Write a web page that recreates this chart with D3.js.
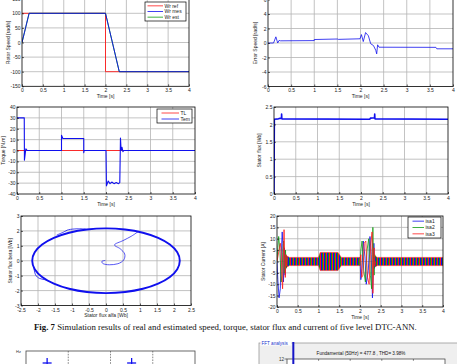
<!DOCTYPE html>
<html>
<head>
<meta charset="utf-8">
<script src="https://cdn.jsdelivr.net/npm/d3@7/dist/d3.min.js"></script>
<style>
  body { margin: 0; background: #fff; }
  svg { display: block; font-family: "Liberation Sans", Arial, sans-serif; }
</style>
</head>
<body>
<svg id="fig" width="457" height="364"></svg>
<script>
// ---- tick labels ----
var timeTicks = [0, 0.5, 1, 1.5, 2, 2.5, 3, 3.5, 4]
var speedTicks = [-150, -100, -50, 0, 50, 100, 150]
var errTicks = [-6, -4, -2, 0, 2, 4, 6]
var torqueTicks = [-40, -30, -20, -10, 0, 10, 20, 30, 40]
var fluxTicks = [0, 0.5, 1, 1.5, 2, 2.5]
var alfaTicks = [-2.5, -2, -1.5, -1, -0.5, 0, 0.5, 1, 1.5, 2, 2.5]
var betaTicks = [-3, -2, -1, 0, 1, 2, 3]
var currentTicks = [-20, -15, -10, -5, 0, 5, 10, 15, 20]

// ---- speed [t, rad/s] ----
var wrRef = [[0, 100], [2, 100], [2, -100], [4, -100]]
var wrMes = [[0, 0], [0.17, 100], [2, 100], [2.33, -100], [4, -100]]
var wrEst = [[0, 0], [0.17, 100], [2, 100], [2.33, -100], [4, -100]]

// ---- speed error ----
var errSpeed = [[0, 0], [0.12, 0], [0.17, 0.85], [0.21, 0], [0.24, 0.36], [0.27, 0.3], [1, 0.33],
  [1, 0.48], [1.5, 0.55], [1.52, 0.5], [1.99, 0.58], [2.02, 1.16], [2.06, 0.2], [2.11, 1.44],
  [2.17, 1.0], [2.22, -0.1], [2.28, -0.35], [2.33, -1.0], [2.35, -1.5], [2.37, -0.25],
  [2.4, -0.58], [3.63, -0.6], [3.65, -0.8], [4, -0.8]]

// ---- torque ----
var torqueLoad = [[0, 0], [4, 0]]
var torqueEm = [[0, 30], [0.163, 30], [0.167, -9], [0.19, -1], [0.2, 1.5], [0.23, 0], [1, 0],
  [1, 14], [1.03, 11], [1.5, 11], [1.5, -2], [1.51, 0], [2, 0], [2.01, -32.5], [2.05, -28],
  [2.09, -30.5], [2.13, -29], [2.18, -30.5], [2.23, -29.5], [2.28, -30.5], [2.31, -29.5],
  [2.325, 11.5], [2.34, 0], [2.36, 3], [2.38, -1], [2.4, 0], [4, 0]]

// ---- stator flux magnitude ----
var fluxMag = [[0, 0], [0.008, 2.15], [0.1, 2.16], [0.16, 2.18], [0.172, 2.18], [0.175, 2.3],
  [0.18, 2.16], [2.2, 2.15], [2.22, 2.18], [2.31, 2.19], [2.315, 2.3], [2.32, 2.16], [4, 2.15]]

// ---- stator flux locus [alfa, beta] ----
var fluxCircle = [[2.17, 0], [2.096, 0.562], [1.879, 1.085], [1.534, 1.534], [1.085, 1.879],
  [0.562, 2.096], [0, 2.17], [-0.562, 2.096], [-1.085, 1.879], [-1.534, 1.534], [-1.879, 1.085],
  [-2.096, 0.562], [-2.17, 0], [-2.096, -0.562], [-1.879, -1.085], [-1.534, -1.534],
  [-1.085, -1.879], [-0.562, -2.096], [0, -2.17], [0.562, -2.096], [1.085, -1.879],
  [1.534, -1.534], [1.879, -1.085], [2.096, -0.562]]
var fluxStart = [[-0.02, 0.02], [-0.12, -0.04], [-0.08, -0.2], [0.1, -0.27], [0.35, -0.2],
  [0.52, 0.05], [0.55, 0.45], [0.42, 0.8], [0.25, 1.07], [0.5, 1.35], [0.75, 1.65], [0.95, 1.96]]
var fluxKink = [[-2.12, -0.5], [-2.07, -0.95], [-1.96, -1.18], [-1.8, -1.27], [-1.62, -1.42]]
var fluxBump = [[-1.45, 1.72], [-1.25, 1.92], [-1.1, 2.08], [-0.85, 2.14], [-0.6, 2.13]]

// ---- stator currents: transients (null splits start / reversal) ----
var isa1 = [[0, 0], [0.02, -8], [0.05, -16], [0.08, -12], [0.1, 2], [0.125, 13], [0.14, 8],
  [0.155, -9], [0.17, -2], [0.18, 6], [0.195, -6], [0.21, 3], [0.225, -2.5], [0.24, 2], [0.25, -1.8],
  null,
  [2.0, 1.8], [2.02, -8], [2.05, -3], [2.08, 9], [2.12, 2], [2.15, -10], [2.2, -4], [2.24, 11],
  [2.27, 3], [2.3, -16], [2.32, -5], [2.335, 8], [2.35, -3], [2.36, 2], [2.37, -1.8]]
var isa2 = [[0, 0], [0.02, 6], [0.04, 11], [0.07, 5], [0.1, -9], [0.12, -6], [0.14, 4], [0.16, 9],
  [0.175, -5], [0.19, -5], [0.205, 5], [0.22, -3], [0.235, 2], [0.25, -1.8],
  null,
  [2.0, -1.8], [2.02, 5], [2.05, 9], [2.09, -4], [2.13, -9], [2.17, 5], [2.21, 10], [2.25, -6],
  [2.28, -12], [2.31, 15], [2.325, 2], [2.34, -6], [2.355, 3], [2.37, 1.8]]
var isa3 = [[0, 0], [0.02, 2], [0.05, 5], [0.08, 8], [0.1, 5], [0.12, -8], [0.135, -12], [0.15, 0],
  [0.17, 14], [0.185, 2], [0.2, -7], [0.215, 3], [0.23, -2], [0.25, 1.8],
  null,
  [2.0, 0], [2.02, 3], [2.04, -7], [2.07, -6], [2.1, 8], [2.14, 9], [2.18, -7], [2.22, -10],
  [2.26, 8], [2.29, 13], [2.31, -14], [2.325, -3], [2.34, 6], [2.355, -2], [2.37, 0]]
// steady-state band (too dense to resolve): half-height envelope
var currentBand = [[0.22, 2.6], [0.3, 1.8], [1, 1.8], [1.04, 4], [1.47, 4], [1.55, 1.8], [2, 1.8],
  null, [2.36, 2.4], [2.42, 1.8], [4, 1.8]]

// ---- partial figures at the bottom ----
var harmGrid = [1, 2, 3]
var harmMarks = [0.5, 2.5]
var fftBars = [[1, 100]]
var fftTicks = [5, 10, 15, 20]

var RED = '#ff1a1a', BLUE = '#1010ee', GREEN = '#109a10'
var svg = d3.select('#fig')
var nClip = 0
var fmt = function(d) { return String(d) }

function panel(o) {
  var id = 'clip' + (nClip++)
  var x = d3.scaleLinear().domain(o.xd).range([o.l, o.r])
  var y = d3.scaleLinear().domain(o.yd).range([o.b, o.t])
  var g = svg.append('g')
  g.append('rect').attr('x', o.l).attr('y', o.t).attr('width', o.r - o.l).attr('height', o.b - o.t)
    .attr('fill', '#fff')
  g.append('g').selectAll('line').data(o.xt.slice(1, -1)).join('line')
    .attr('x1', x).attr('x2', x).attr('y1', o.t).attr('y2', o.b)
    .attr('stroke', '#b4b4b4').attr('stroke-width', 0.8)
  g.append('g').selectAll('line').data(o.yt.slice(1, -1)).join('line')
    .attr('y1', y).attr('y2', y).attr('x1', o.l).attr('x2', o.r)
    .attr('stroke', '#b4b4b4').attr('stroke-width', 0.8)
  g.append('clipPath').attr('id', id).append('rect')
    .attr('x', o.l).attr('y', o.t).attr('width', o.r - o.l).attr('height', o.b - o.t)
  var plot = g.append('g').attr('clip-path', 'url(#' + id + ')')

  var ax = g.append('g').attr('transform', 'translate(0,' + o.b + ')')
    .call(d3.axisBottom(x).tickValues(o.xt).tickFormat(fmt).tickSize(-2).tickPadding(o.xp || 2))
  var ay = g.append('g').attr('transform', 'translate(' + o.l + ',0)')
    .call(d3.axisLeft(y).tickValues(o.yt).tickFormat(fmt).tickSize(-2).tickPadding(1.5))
  ;[ax, ay].forEach(function(a) {
    a.attr('font-family', null).attr('font-size', null)
    a.select('.domain').remove()
    a.selectAll('line').attr('stroke', '#000').attr('stroke-width', 0.6)
    a.selectAll('text').attr('font-size', 5).attr('fill', '#222')
  })
  g.append('rect').attr('x', o.l).attr('y', o.t).attr('width', o.r - o.l).attr('height', o.b - o.t)
    .attr('fill', 'none').attr('stroke', '#000').attr('stroke-width', 0.8)
  g.append('text').attr('x', (o.l + o.r) / 2).attr('y', o.b + 11.5).attr('text-anchor', 'middle')
    .attr('font-size', 5).attr('fill', '#222').text(o.xl)
  g.append('text').attr('transform', 'translate(' + (o.l - o.yo) + ',' + ((o.t + o.b) / 2) + ') rotate(-90)')
    .attr('text-anchor', 'middle').attr('dy', '0.35em').attr('font-size', 5).attr('fill', '#222').text(o.yl)
  return { x: x, y: y, plot: plot }
}

function draw(p, data, color, width, curve) {
  var line = d3.line().defined(function(d) { return d !== null })
    .x(function(d) { return p.x(d[0]) }).y(function(d) { return p.y(d[1]) })
  if (curve) line.curve(curve)
  p.plot.append('path').datum(data).attr('d', line)
    .attr('fill', 'none').attr('stroke', color).attr('stroke-width', width || 1)
    .attr('stroke-linejoin', 'round')
}

function legend(x0, y0, w, h, l0, l1, items) {
  var lg = svg.append('g')
  lg.append('rect').attr('x', x0).attr('y', y0).attr('width', w).attr('height', h)
    .attr('fill', '#fff').attr('stroke', '#000').attr('stroke-width', 0.7)
  var step = (h - 2) / items.length
  items.forEach(function(it, i) {
    var yy = y0 + 1 + step * (i + 0.5)
    lg.append('line').attr('x1', x0 + l0).attr('x2', x0 + l1).attr('y1', yy).attr('y2', yy)
      .attr('stroke', it[1]).attr('stroke-width', 0.8)
    lg.append('text').attr('x', x0 + l1 + 1.5).attr('y', yy).attr('dy', '0.35em')
      .attr('font-size', 5).attr('fill', '#222').text(it[0])
  })
}

// 1: rotor speed
var p1 = panel({ l: 22, r: 189, t: -1.3, b: 86.3, xd: [0, 4], yd: [-150, 150],
  xt: timeTicks, yt: speedTicks, xl: 'Time [s]', yl: 'Rotor Speed [rad/s]', yo: 14 })
draw(p1, wrRef, RED, 0.9)
draw(p1, wrEst, GREEN, 0.9)
draw(p1, wrMes, BLUE, 0.9)
legend(145, 2, 41, 19, 2.5, 18, [['Wr ref', RED], ['Wr mes', BLUE], ['Wr est', GREEN]])

// 2: speed error
var p2 = panel({ l: 268, r: 453, t: -0.5, b: 86.5, xd: [0, 4], yd: [-6, 6],
  xt: timeTicks, yt: errTicks, xl: 'Time [s]', yl: 'Error Speed [rad/s]', yo: 13 })
draw(p2, errSpeed, BLUE, 0.8)

// 3: torque
var p3 = panel({ l: 17, r: 195, t: 107, b: 194, xd: [0, 4], yd: [-40, 40],
  xt: timeTicks, yt: torqueTicks, xl: 'Time [s]', yl: 'Torque [N.m]', yo: 14 })
draw(p3, torqueLoad, RED, 0.9)
draw(p3, torqueEm, BLUE, 1.1)
legend(157, 109, 35, 14, 4.5, 22, [['TL', RED], ['Tem', BLUE]])

// 4: stator flux magnitude
var p4 = panel({ l: 274, r: 448, t: 107, b: 194, xd: [0, 4], yd: [0, 2.5],
  xt: timeTicks, yt: fluxTicks, xl: 'Time [s]', yl: 'Stator flux [Wb]', yo: 15 })
draw(p4, fluxMag, BLUE, 1.6)

// 5: stator flux locus
var p5 = panel({ l: 21, r: 191, t: 216, b: 305.5, xd: [-2.5, 2.5], yd: [-3, 3], xp: 2.6,
  xt: alfaTicks, yt: betaTicks, xl: 'Stator flux alfa [Wb]', yl: 'Stator flux beta [Wb]', yo: 11 })
draw(p5, fluxCircle, BLUE, 1.9, d3.curveCardinalClosed)
draw(p5, fluxStart, BLUE, 0.7, d3.curveCardinal)
draw(p5, fluxKink, BLUE, 0.8, d3.curveCardinal)
draw(p5, fluxBump, BLUE, 0.8, d3.curveCardinal)

// 6: stator currents
var p6 = panel({ l: 277, r: 443, t: 216, b: 307, xd: [0, 4], yd: [-20, 20],
  xt: timeTicks, yt: currentTicks, xl: 'Time [s]', yl: 'Stator Current [A]', yo: 14 })
var pat = svg.append('defs').append('pattern').attr('id', 'stripes')
  .attr('patternUnits', 'userSpaceOnUse').attr('width', 3).attr('height', 4)
;[BLUE, GREEN, RED].forEach(function(c, i) {
  pat.append('rect').attr('x', i).attr('y', 0).attr('width', 1).attr('height', 4).attr('fill', c)
})
var band = d3.area().defined(function(d) { return d !== null })
  .x(function(d) { return p6.x(d[0]) })
  .y0(function(d) { return p6.y(-d[1]) }).y1(function(d) { return p6.y(d[1]) })
p6.plot.append('path').datum(currentBand).attr('d', band).attr('fill', 'url(#stripes)')
p6.plot.append('path').datum(currentBand).attr('d', band).attr('fill', 'none')
  .attr('stroke', RED).attr('stroke-width', 0.5)
draw(p6, isa1, BLUE, 0.8)
draw(p6, isa2, GREEN, 0.8)
draw(p6, isa3, RED, 0.8)
legend(408, 217, 33, 21, 4.5, 16, [['isa1', BLUE], ['isa2', GREEN], ['isa3', RED]])

// caption
var cap = svg.append('text').attr('x', 34).attr('y', 329.5)
  .attr('font-family', '"Liberation Serif", "Times New Roman", serif').attr('font-size', 8.8).attr('fill', '#111')
cap.append('tspan').attr('font-weight', 'bold').text('Fig. 7')
cap.append('tspan').text(' Simulation results of real and estimated speed, torque, stator flux and current of five level DTC-ANN.')

// partial harmonic plot (bottom left)
var hx = d3.scaleLinear().domain([0, 4]).range([26, 195])
var hy = d3.scaleLinear().domain([0, 1.05]).range([603, 351])
svg.append('g').selectAll('line').data(harmGrid).join('line')
  .attr('x1', hx).attr('x2', hx).attr('y1', 351).attr('y2', 364)
  .attr('stroke', '#555').attr('stroke-width', 0.7).attr('stroke-dasharray', '1.6,1.2')
svg.append('rect').attr('x', 26).attr('y', 351).attr('width', 169).attr('height', 30)
  .attr('fill', 'none').attr('stroke', '#444').attr('stroke-width', 0.8)
var marks = svg.append('g').selectAll('g').data(harmMarks).join('g')
  .attr('transform', function(d) { return 'translate(' + hx(d) + ',' + hy(1) + ')' })
marks.append('line').attr('x1', -4.5).attr('x2', 4.5).attr('stroke', BLUE).attr('stroke-width', 1.3)
marks.append('line').attr('y1', -5).attr('y2', 5).attr('stroke', BLUE).attr('stroke-width', 1.3)
svg.append('text').attr('x', 16).attr('y', 353).attr('font-size', 4).attr('fill', '#333').text('Hz')

// partial FFT panel (bottom right)
svg.append('rect').attr('x', 259).attr('y', 343).attr('width', 220).attr('height', 40)
  .attr('fill', '#efefef').attr('stroke', '#9a9a9a').attr('stroke-width', 0.8)
svg.append('rect').attr('x', 260.5).attr('y', 340.5).attr('width', 31).attr('height', 5).attr('fill', '#fff')
svg.append('text').attr('x', 261.5).attr('y', 344.7).attr('font-size', 4.6).attr('fill', '#2233cc').text('FFT analysis')
svg.append('text').attr('x', 361).attr('y', 355).attr('text-anchor', 'middle').attr('font-size', 4.6)
  .attr('fill', '#111').text('Fundamental (50Hz) = 477.8 , THD= 3.98%')
var fx = d3.scaleLinear().domain([0, 25]).range([287, 445])
var fy = d3.scaleLinear().domain([0, 12]).range([419, 359])
svg.append('rect').attr('x', 287).attr('y', 359).attr('width', 158).attr('height', 20)
  .attr('fill', '#fff').attr('stroke', '#333').attr('stroke-width', 0.7)
svg.append('g').selectAll('line').data(fftTicks).join('line')
  .attr('x1', fx).attr('x2', fx).attr('y1', 359).attr('y2', 360.8).attr('stroke', '#333').attr('stroke-width', 0.6)
svg.append('line').attr('x1', 284.5).attr('x2', 287).attr('y1', fy(12)).attr('y2', fy(12)).attr('stroke', '#333').attr('stroke-width', 0.6)
svg.append('text').attr('x', 284).attr('y', fy(12)).attr('dy', '0.35em').attr('text-anchor', 'end')
  .attr('font-size', 4.6).attr('fill', '#333').text('12')
svg.append('clipPath').attr('id', 'fftclip').append('rect').attr('x', 280).attr('y', 342).attr('width', 180).attr('height', 30)
svg.append('g').attr('clip-path', 'url(#fftclip)').selectAll('rect').data(fftBars).join('rect')
  .attr('x', function(d) { return fx(d[0]) - 1 }).attr('width', 2)
  .attr('y', function(d) { return fy(d[1]) }).attr('height', function(d) { return fy(0) - fy(d[1]) })
  .attr('fill', '#1515c8')
</script>
</body>
</html>
